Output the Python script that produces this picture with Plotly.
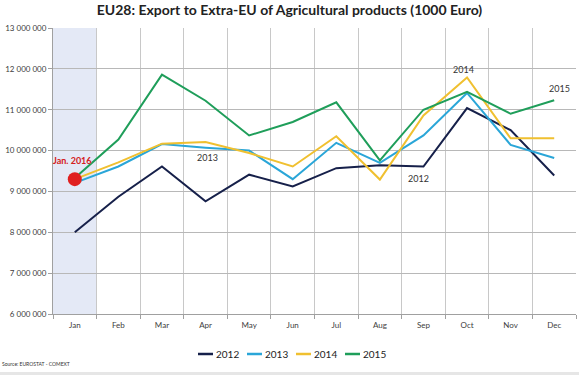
import plotly.graph_objects as go

months = ["Jan", "Feb", "Mar", "Apr", "May", "Jun", "Jul", "Aug", "Sep", "Oct", "Nov", "Dec"]
y2012 = [8.00, 8.87, 9.61, 8.76, 9.41, 9.12, 9.57, 9.64, 9.61, 11.04, 10.50, 9.39]
y2013 = [9.21, 9.61, 10.16, 10.07, 10.00, 9.30, 10.19, 9.70, 10.37, 11.41, 10.14, 9.82]
y2014 = [9.30, 9.71, 10.17, 10.21, 9.94, 9.61, 10.35, 9.29, 10.86, 11.79, 10.30, 10.30]
y2015 = [9.33, 10.27, 11.86, 11.22, 10.37, 10.70, 11.18, 9.76, 11.00, 11.44, 10.90, 11.23]
jan2016 = 9.30
yticks = [6, 7, 8, 9, 10, 11, 12, 13]
ytext = ["6 000 000", "7 000 000", "8 000 000", "9 000 000", "10 000 000", "11 000 000", "12 000 000", "13 000 000"]

series = [("2012", y2012, "#16204a"), ("2013", y2013, "#2aa6d8"),
          ("2014", y2014, "#f0c030"), ("2015", y2015, "#1f9e5a")]

x = list(range(len(months)))
F = "Lato"
W, H = 579, 375
ML, MR, MT, MB = 53, 3, 28, 61
PW, PH = W - ML - MR, H - MT - MB


def px(xp):
    return (xp - ML) / PW


def py(yp):
    return (H - MB - yp) / PH


fig = go.Figure()
for name, ys, col in series:
    fig.add_trace(go.Scatter(x=x, y=[v * 1e6 for v in ys], mode="lines", name=name,
                             line=dict(color=col, width=2), showlegend=False))
fig.add_trace(go.Scatter(x=[0], y=[jan2016 * 1e6], mode="markers", showlegend=False,
                         marker=dict(color="#e02020", size=14)))

fig.add_shape(type="rect", xref="x", yref="paper", x0=-0.5, x1=0.5, y0=0, y1=1,
              fillcolor="#e4e9f6", line_width=0, layer="below")
fig.add_shape(type="rect", xref="paper", yref="paper", x0=px(0), x1=px(W), y0=py(H), y1=py(372),
              fillcolor="#e6e6e6", line_width=0)

# legend (manual, compact like the original)
for i, (name, ys, col) in enumerate(series):
    x0 = 198 + i * 49
    fig.add_shape(type="line", xref="paper", yref="paper", x0=px(x0), x1=px(x0 + 15),
                  y0=py(354), y1=py(354), line=dict(color=col, width=2.5))
    fig.add_annotation(xref="paper", yref="paper", x=px(x0 + 16), y=py(354), xanchor="left",
                       yanchor="middle", text=name, showarrow=False,
                       font=dict(family=F, size=10, color="#222222"))

anns = [(0, jan2016, "Jan. 2016", -2, -19, "#d42020", True),
        (3, y2013[3], "2013", 2, 10, "#333333", False),
        (8, y2012[8], "2012", -5, 12, "#333333", False),
        (9, y2014[9], "2014", -4, -8, "#333333", False),
        (11, y2015[11], "2015", 5, -12, "#333333", False)]
for xi, yv, t, dx, dy, c, b in anns:
    fig.add_annotation(x=xi, y=yv * 1e6, text=f"<b>{t}</b>" if b else t, showarrow=False,
                       xshift=dx, yshift=-dy, font=dict(family=F, size=9, color=c))

fig.add_annotation(xref="paper", yref="paper", x=px(0), y=py(364), xanchor="left", yanchor="middle",
                   text="Source: EUROSTAT - COMEXT", showarrow=False,
                   font=dict(family=F, size=5, color="#333333"))

fig.update_layout(
    width=W, height=H,
    margin=dict(l=ML, r=MR, t=MT, b=MB, autoexpand=False),
    paper_bgcolor="white", plot_bgcolor="rgba(0,0,0,0)",
    showlegend=False,
    title=dict(text="<b>EU28: Export to Extra-EU of Agricultural products (1000 Euro)</b>",
               x=0.5, xanchor="center", y=0.985, yanchor="top",
               font=dict(family=F, size=14, color="#222222")),
    xaxis=dict(range=[-0.5, 11.5], tickvals=x, ticktext=months, showgrid=False,
               ticks="", showline=True, linecolor="#a0a0a0", zeroline=False, automargin=False,
               ticklabelstandoff=3,
               tickfont=dict(family=F, size=8, color="#404040"),
               minor=dict(tickvals=[i - 0.5 for i in range(len(months) + 1)],
                          showgrid=True, gridcolor="#c8c8c8", gridwidth=1,
                          ticks="outside", ticklen=4, tickcolor="#a0a0a0")),
    yaxis=dict(range=[6e6, 13e6], tickvals=[v * 1e6 for v in yticks], ticktext=ytext,
               showgrid=True, gridcolor="#b8b8b8", gridwidth=1, zeroline=False, automargin=False,
               showline=True, linecolor="#a0a0a0", ticks="outside", ticklen=4,
               tickcolor="#a0a0a0", tickfont=dict(family=F, size=8, color="#404040")),
)
fig.write_html("out.html", config={"displayModeBar": False},
               post_script="document.body.style.margin='0';")
